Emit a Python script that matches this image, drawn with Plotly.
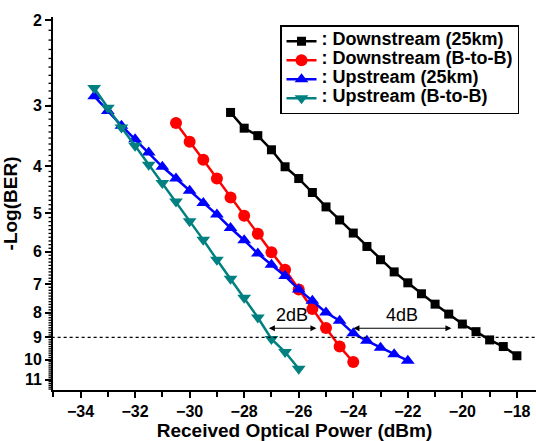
import numpy as np
import plotly.graph_objects as go

# ---- data ----
ds25_x = [-28.5 + 0.5 * i for i in range(22)]
ds25_y = [3.10, 3.34, 3.46, 3.70, 4.01, 4.24, 4.53, 4.85, 5.16, 5.49, 5.85,
          6.23, 6.60, 6.95, 7.32, 7.69, 8.06, 8.45, 8.76, 9.11, 9.40, 9.82]

dsbb_x = [-30.5 + 0.5 * i for i in range(14)]
dsbb_y = [3.26, 3.56, 3.88, 4.24, 4.64, 5.06, 5.51, 6.01, 6.53, 7.17, 7.87,
          8.61, 9.40, 10.12]

us25_x = [-33.5 + 0.5 * i for i in range(24)]
us25_y = [2.87, 3.08, 3.30, 3.52, 3.75, 4.01, 4.24, 4.49, 4.76, 5.03, 5.36,
          5.68, 6.05, 6.38, 6.73, 7.17, 7.57, 8.00, 8.32, 8.83, 9.15, 9.45,
          9.75, 10.05]

usbb_x = [-33.5 + 0.5 * i for i in range(16)]
usbb_y = [2.76, 3.03, 3.33, 3.63, 3.97, 4.33, 4.73, 5.19, 5.67, 6.23, 6.82,
          7.46, 8.19, 9.07, 9.65, 10.44]

names = [": Downstream (25km)", ": Downstream (B-to-B)", ": Upstream (25km)", ": Upstream (B-to-B)"]
colors = ["#000000", "#FF0000", "#0000FF", "#008080"]
symbols = ["square", "circle", "triangle-up", "triangle-down"]
msizes = [9, 12, 12, 12]

x_ticks = [-34, -32, -30, -28, -26, -24, -22, -20, -18]
y_ticks = [2, 3, 4, 5, 6, 7, 8, 9, 10, 11]
y_minor = [round(2.0 + 0.1 * i, 1) for i in range(96)]
threshold = 9

FONT = "Liberation Sans, Arial, sans-serif"
Y_RANGE = [float(np.log10(11.55)), float(np.log10(1.972))]
PLOT_W = 536 - 53  # plot-area width in px (for tick length in paper units)

fig = go.Figure()

# threshold dotted line, on a linear overlay axis expressed in log10 units
fig.add_trace(go.Scatter(x=[-35.5, -17], y=[float(np.log10(threshold))] * 2, mode="lines",
                         line=dict(color="black", width=1.3, dash="dot"),
                         showlegend=False, hoverinfo="skip", yaxis="y2"))

for xs, ys, n, c, s, m in zip([ds25_x, dsbb_x, us25_x, usbb_x],
                              [ds25_y, dsbb_y, us25_y, usbb_y],
                              names, colors, symbols, msizes):
    fig.add_trace(go.Scatter(x=xs, y=ys,
                             name=f"<span style='font-size:18px'>{n}</span>",
                             mode="lines+markers",
                             line=dict(color=c, width=2.5),
                             marker=dict(symbol=s, size=m, color=c)))

fig.update_layout(
    width=536, height=441,
    margin=dict(l=53, r=0, t=17, b=49),
    paper_bgcolor="white", plot_bgcolor="white",
    font=dict(family=FONT, color="black"),
    showlegend=True,
    legend=dict(x=0.470, y=0.978, xanchor="left", yanchor="top",
                bordercolor="black", borderwidth=1.5, bgcolor="white",
                font=dict(family=FONT, size=10, weight="bold"),
                tracegroupgap=0, itemwidth=30),
    xaxis=dict(range=[-35.01, -17.3], tickvals=x_ticks,
               ticks="outside", ticklen=6, tickwidth=2, tickcolor="black",
               showline=True, linewidth=2, linecolor="black",
               showgrid=False, zeroline=False,
               tickfont=dict(family=FONT, size=16, weight="bold"),
               minor=dict(dtick=1, tick0=0, ticks="outside", ticklen=5, tickwidth=2, tickcolor="black"),
               title=dict(text="Received Optical Power (dBm)", standoff=7,
                          font=dict(family=FONT, size=19, weight="bold"))),
    yaxis=dict(type="log", range=Y_RANGE,
               tickmode="array", tickvals=y_ticks, ticktext=[str(v) for v in y_ticks],
               ticks="outside", ticklen=6, tickwidth=2, tickcolor="black",
               showline=True, linewidth=2, linecolor="black",
               showgrid=False, zeroline=False,
               tickfont=dict(family=FONT, size=16, weight="bold"),
               title=dict(text="-Log(BER)", standoff=6,
                          font=dict(family=FONT, size=19, weight="bold"))),
    yaxis2=dict(type="linear", range=Y_RANGE, overlaying="y", side="left",
                showticklabels=False, ticks="",
                showline=False, showgrid=False, zeroline=False),
)

# minor ticks on the y axis (short strokes left of the axis line, at 0.1 steps)
for v in y_minor:
    fig.add_shape(type="line", xref="paper", yref="y2",
                  x0=-4.5 / PLOT_W, x1=0, y0=float(np.log10(v)), y1=float(np.log10(v)),
                  line=dict(color="black", width=1.3), layer="above")

# double-headed arrows and labels
arrow_y = float(np.log10(8.62))
for x0, x1, label in [(-27.15, -25.35, "2dB"), (-24.05, -20.4, "4dB")]:
    fig.add_annotation(x=x1, y=arrow_y, ax=x0, ay=arrow_y, xref="x", yref="y",
                       axref="x", ayref="y", text="", showarrow=True,
                       arrowhead=2, startarrowhead=2, arrowside="end+start",
                       arrowsize=1, arrowwidth=1.2, arrowcolor="black",
                       standoff=0, startstandoff=0)
    fig.add_annotation(x=(x0 + x1) / 2, y=float(np.log10(8.11)), xref="x", yref="y",
                       text=label, showarrow=False,
                       font=dict(family=FONT, size=18, color="black"))

fig.write_html("out.html", config={"displayModeBar": False},
               post_script="document.body.style.margin='0';document.body.style.padding='0';document.body.style.overflow='hidden';")
